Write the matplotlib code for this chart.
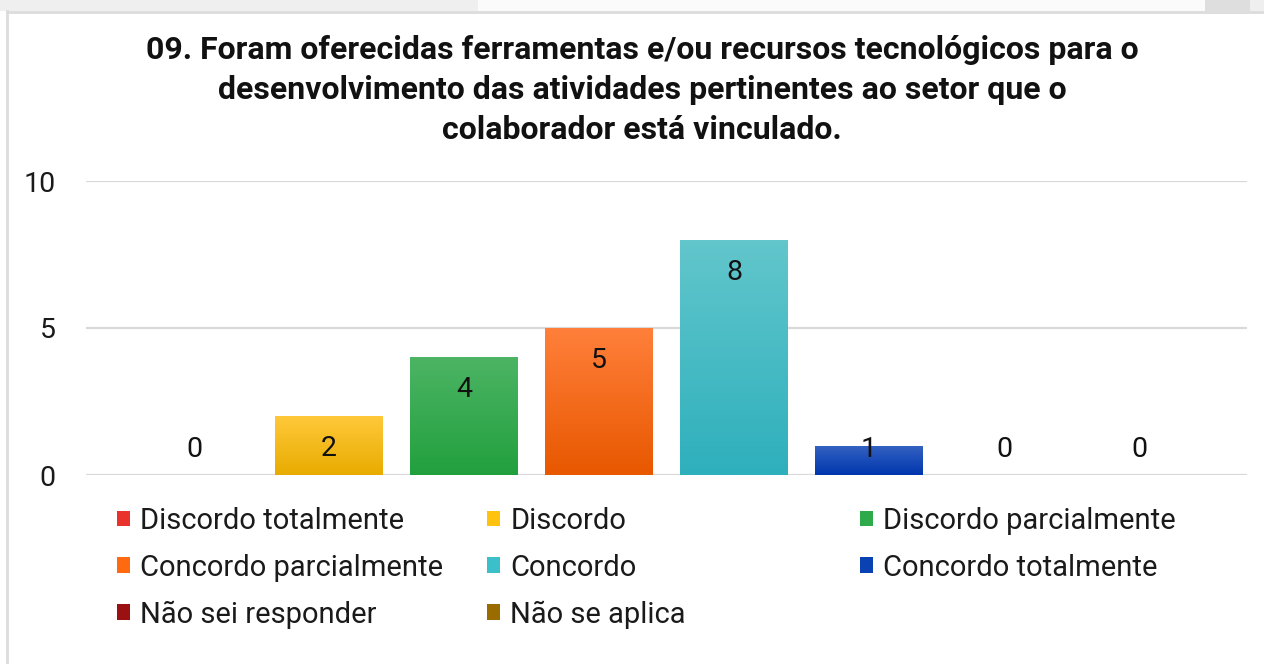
import numpy as np
import matplotlib
matplotlib.use("Agg")
import matplotlib.pyplot as plt
from matplotlib.patches import Patch, Rectangle
from matplotlib.colors import to_rgb

plt.rcParams['font.family'] = ['Roboto', 'DejaVu Sans']

# data
categories = ['Discordo totalmente', 'Discordo', 'Discordo parcialmente',
              'Concordo parcialmente', 'Concordo', 'Concordo totalmente',
              'Não sei responder', 'Não se aplica']
values = [0, 2, 4, 5, 8, 1, 0, 0]
# (top colour, bottom colour) of each bar's gradient
top_colors = ['#f0504a', '#ffc83a', '#4cb464', '#ff7f3a', '#62c6cc', '#3563c2', '#a52a2a', '#a07a10']
bottom_colors = ['#d92a22', '#e8ac00', '#22a03e', '#e85800', '#2eb0bc', '#0036ae', '#8e0a0a', '#8a6200']
legend_colors = ['#e8322b', '#ffc20e', '#2eaa4a', '#ff6a10', '#3bbfc9', '#0a42b4', '#9b1010', '#9a6c00']
title = ("09. Foram oferecidas ferramentas e/ou recursos tecnológicos para o\n"
         "desenvolvimento das atividades pertinentes ao setor que o\n"
         "colaborador está vinculado.")

W, H = 1264, 664
fig = plt.figure(figsize=(W / 100, H / 100), dpi=100)

# slide background strip and chart frame
fig.patches.append(Rectangle((0, 1 - 11 / H), 1, 11 / H, transform=fig.transFigure,
                             facecolor='#efefef', edgecolor='none', zorder=0))
fig.patches.append(Rectangle((478 / W, 1 - 11 / H), 730 / W, 11 / H, transform=fig.transFigure,
                             facecolor='#fbfbfb', edgecolor='none', zorder=0))
fig.patches.append(Rectangle((1205 / W, 1 - 11 / H), 45 / W, 11 / H, transform=fig.transFigure,
                             facecolor='#dedede', edgecolor='none', zorder=0))
fig.lines.append(plt.Line2D([7 / W, 7 / W], [0, 1 - 11 / H], transform=fig.transFigure,
                            color='#dcdcdc', lw=2))
fig.lines.append(plt.Line2D([7 / W, 1], [1 - 12 / H, 1 - 12 / H], transform=fig.transFigure,
                            color='#dcdcdc', lw=2))

ax = fig.add_axes([86 / W, (H - 475) / H, 1161 / W, 294 / H])
x = np.arange(len(categories))
bars = ax.bar(x, values, width=0.8, color=legend_colors, zorder=2)

# vertical gradient inside every bar
for b, ct, cb in zip(bars, top_colors, bottom_colors):
    h = b.get_height()
    if h <= 0:
        continue
    t = np.linspace(0, 1, 64)[:, None]
    grad = (1 - t) * np.array(to_rgb(ct)) + t * np.array(to_rgb(cb))
    img = ax.imshow(grad[:, None, :].repeat(2, axis=1), aspect='auto',
                    extent=[b.get_x(), b.get_x() + b.get_width(), 0, h],
                    zorder=3, interpolation='bilinear')
    img.set_clip_path(b)

ax.set_xlim(-0.8, 7.8)
ax.set_ylim(0, 10)
ax.set_yticks([0, 5, 10])
ax.yaxis.grid(True, color='#d9d9d9', lw=1.6, zorder=1)
ax.set_axisbelow(True)
ax.set_xticks([])
for s in ax.spines.values():
    s.set_visible(False)
ax.tick_params(axis='y', length=0, pad=22, labelsize=20.5, labelcolor='#1a1a1a')

# value labels: inside the top end, kept above the baseline for small bars
for xi, v in zip(x, values):
    y = max(v - 1.1, 0.88)
    ax.text(xi, y, str(v), ha='center', va='center', fontsize=20.5, color='#111111', zorder=5)

fig.text(642 / W, 1 - 90 / H, title, ha='center', va='center', fontsize=23,
         fontweight='bold', linespacing=1.4, color='#111111')

# legend, three equal columns filled row by row
col_x = [117 / W, 487 / W, 860 / W]
for c in range(3):
    idx = list(range(c, len(categories), 3))
    handles = [Patch(facecolor=legend_colors[i], edgecolor='none') for i in idx]
    fig.legend(handles, [categories[i] for i in idx], loc='upper left',
               bbox_to_anchor=(col_x[c], 1 - 507 / H), frameon=False,
               fontsize=21, handlelength=0.45, handleheight=0.45,
               handletextpad=0.35, labelspacing=0.64, borderpad=0, borderaxespad=0,
               labelcolor='#1a1a1a')

fig.savefig('out.png', dpi=100, facecolor='white')
